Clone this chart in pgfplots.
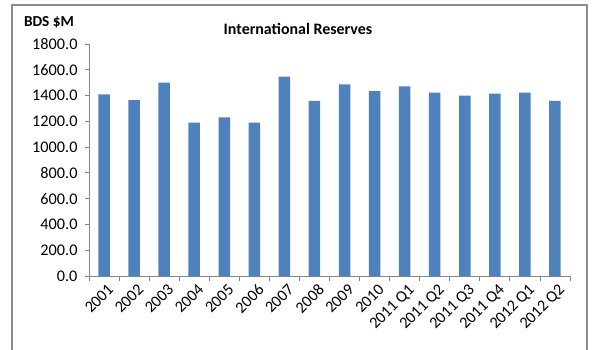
\documentclass[border=0pt]{standalone}
\usepackage{pgfplots}
\pgfplotsset{compat=1.18}
\usepackage{fontspec}
\setmainfont{Carlito}
\definecolor{barblue}{HTML}{4F81BD}
\definecolor{axgray}{HTML}{868686}
\definecolor{framegray}{HTML}{8C8C8C}
\begin{document}
\begin{tikzpicture}[x=1bp,y=1bp]
\useasboundingbox (0,0) rectangle (592,349);
\draw[framegray,line width=1.4bp] (12,-2) -- (12,344) -- (587,344) -- (587,-2);
\node[font=\fontsize{16}{18}\selectfont\bfseries] at (298,320) {International Reserves};
\node[font=\fontsize{15.3}{17}\selectfont\bfseries] at (49,327) {BDS \$M};
\begin{axis}[
  at={(89bp,73bp)}, anchor=south west,
  scale only axis, width=481bp, height=232bp,
  xmin=-0.5, xmax=15.5, ymin=0, ymax=1800,
  axis lines*=left,
  axis line style={axgray, line width=0.8bp, -},
  ytick={0,200,...,1800},
  xtick={0,...,15},
  xticklabels={2001,2002,2003,2004,2005,2006,2007,2008,2009,2010,2011 Q1,2011 Q2,2011 Q3,2011 Q4,2012 Q1,2012 Q2},
  minor xtick={-0.5,0.5,...,15.5},
  major x tick style={draw=none},
  minor tick length=5bp,
  major tick length=4bp,
  tick align=outside,
  tick style={axgray, line width=0.8bp},
  tick label style={font=\fontsize{16.3}{18}\selectfont},
  x tick label style={rotate=45, anchor=north east, inner sep=1bp, xshift=1bp, yshift=-3bp},
  y tick label style={xshift=-4bp, /pgf/number format/.cd, fixed, fixed zerofill, precision=1, 1000 sep={}, assume math mode=true},
  /pgf/number format/assume math mode=true,
  scaled y ticks=false,
  ybar, bar width=11.5bp,
]
\addplot[fill=barblue, draw=none] coordinates {
(0,1410) (1,1365) (2,1500) (3,1190) (4,1231) (5,1190) (6,1547) (7,1358)
(8,1487) (9,1435) (10,1472) (11,1422) (12,1399) (13,1415) (14,1422) (15,1358)
};
\end{axis}
\end{tikzpicture}
\end{document}
